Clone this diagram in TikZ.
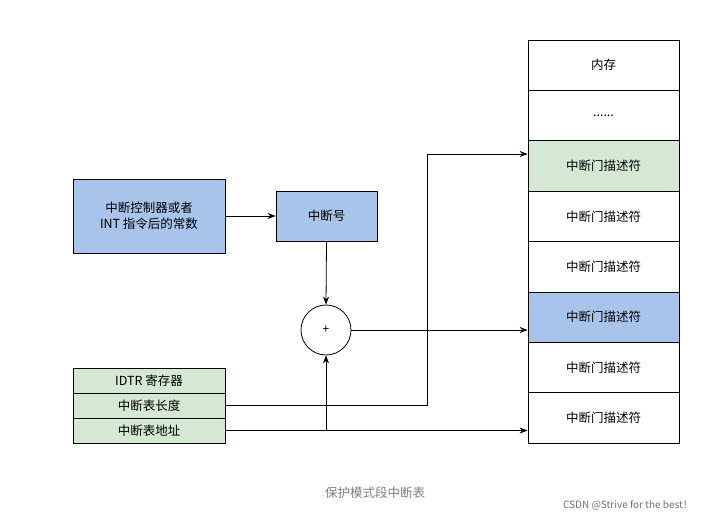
\documentclass[tikz,border=0pt]{standalone}
\usepackage{fontspec}
\setmainfont{Noto Sans CJK SC}
\usetikzlibrary{arrows.meta}
\definecolor{bl}{HTML}{A9C4EB}
\definecolor{gr}{HTML}{D5E8D4}
\begin{document}
\begin{tikzpicture}[x=1pt,y=-1pt,
  box/.style={draw=black,line width=0.8pt,minimum width=#1,inner sep=0pt,align=center,font=\fontsize{12.5}{16}\selectfont},
  arr/.style={draw=black,line width=0.8pt,-{Stealth[length=8pt,width=6pt]}},
  ln/.style={draw=black,line width=0.8pt}]
\useasboundingbox (0,0) rectangle (722,521);
\fill[white] (0,0) rectangle (722,521);
\node[box=152pt,minimum height=74pt,fill=bl] (src) at (149,216) {中断控制器或者\\INT 指令后的常数};
\node[box=101pt,minimum height=50pt,fill=bl] (num) at (326.5,216) {中断号};
\node[draw=black,line width=0.8pt,circle,minimum size=50pt,inner sep=0pt,font=\fontsize{12}{14}\selectfont] (plus) at (326,330) {+};
\node[box=152pt,minimum height=25pt,fill=gr] (idtr) at (149,380.5) {IDTR 寄存器};
\node[box=152pt,minimum height=25pt,fill=gr] (len) at (149,405.5) {中断表长度};
\node[box=152pt,minimum height=25pt,fill=gr] (addr) at (149,430.5) {中断表地址};
\node[box=151pt,minimum height=50.4pt] (m0) at (603.5,65.2) {内存};
\node[box=151pt,minimum height=50.4pt] (m1) at (603.5,115.6) {......};
\node[box=151pt,minimum height=50.4pt,fill=gr] (m2) at (603.5,166) {中断门描述符};
\node[box=151pt,minimum height=50.4pt] (m3) at (603.5,216.4) {中断门描述符};
\node[box=151pt,minimum height=50.4pt] (m4) at (603.5,266.8) {中断门描述符};
\node[box=151pt,minimum height=50.4pt,fill=bl] (m5) at (603.5,317.2) {中断门描述符};
\node[box=151pt,minimum height=50.4pt] (m6) at (603.5,367.6) {中断门描述符};
\node[box=151pt,minimum height=50.4pt] (m7) at (603.5,418) {中断门描述符};
\draw[arr] (src.east |- num) -- (num.west);
\draw[arr] (num.south) -- (plus.north);
\draw[arr] (plus.east) -- (plus.east -| m5.west);
\draw[arr] (len.east) -- (427,405.5) -- (427,154) -- (m2.west |- 0,154);
\draw[arr] (addr.east) -- (addr.east -| m7.west);
\coordinate (j) at (326,430.5);
\draw[arr] (j) -- (plus.south);
\node[text=gray,font=\fontsize{12.5}{14}\selectfont] (cap) at (375,493) {保护模式段中断表};
\node[text=gray!90!black,font=\fontsize{10}{12}\selectfont] (csdn) at (628,505) {CSDN @Strive for the best！};
\end{tikzpicture}
\end{document}
